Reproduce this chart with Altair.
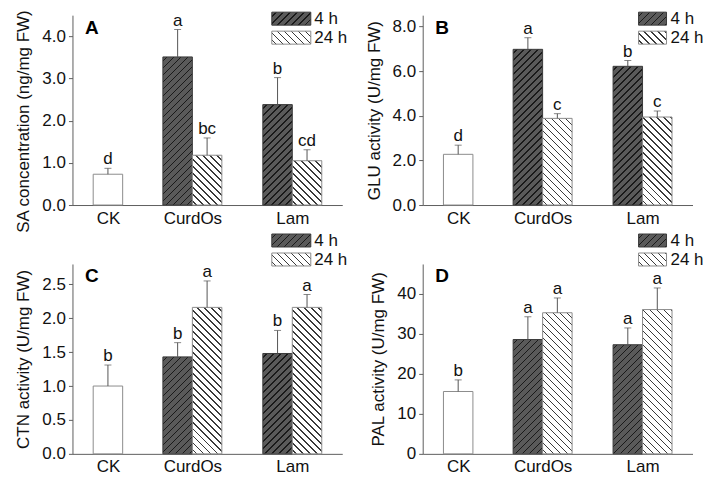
import altair as alt
import pandas as pd

# ---------------- data ----------------
bar_group = ["CK", "CurdOs", "CurdOs", "Lam", "Lam"]
bar_time = ["CK", "4 h", "24 h", "4 h", "24 h"]

sa_mean = [0.73, 3.51, 1.18, 2.38, 1.05]
sa_err = [0.14, 0.65, 0.41, 0.64, 0.26]
sa_letters = ["d", "a", "bc", "b", "cd"]

glu_mean = [2.27, 6.97, 3.88, 6.21, 3.94]
glu_err = [0.41, 0.52, 0.21, 0.26, 0.27]
glu_letters = ["d", "a", "c", "b", "c"]

ctn_mean = [1.00, 1.43, 2.16, 1.48, 2.16]
ctn_err = [0.31, 0.21, 0.39, 0.34, 0.19]
ctn_letters = ["b", "b", "a", "b", "a"]

pal_mean = [15.6, 28.6, 35.3, 27.3, 36.1]
pal_err = [2.9, 5.7, 3.7, 4.2, 5.4]
pal_letters = ["b", "a", "a", "a", "a"]

# ---------------- layout / style ----------------
W, H = 270, 190
XMAX = 2.7
group_pos = {"CK": 0.355, "CurdOs": 1.2, "Lam": 2.2}
BW = 0.295
PX = W / XMAX
FONT = "Liberation Sans"
DARK_BG, DARK_FG = "#5a5a5a", "#1a1a1a"
LIGHT_BG, LIGHT_FG = "#ffffff", "#3a3a3a"
AXIS_COLOR = "#5e5e5e"


def hatch(w, h, direction, bg, fg, spacing=7.0, lw=1.1):
    c = (w + h) / (w * w + h * h)
    if direction == "/":
        x1, y1, x2, y2 = 0, 0, c * w, c * h
    else:
        x1, y1, x2, y2 = 0, 1, c * w, 1 - c * h
    p = spacing / (w + h)
    f = min(0.5, lw * 1.414 / spacing) * p
    stops = []
    t = p * 0.5
    stops.append({"offset": 0, "color": bg})
    while t < 1:
        a = min(1, t)
        b = min(1, t + f)
        stops += [
            {"offset": round(a, 5), "color": bg},
            {"offset": round(a, 5), "color": fg},
            {"offset": round(b, 5), "color": fg},
            {"offset": round(b, 5), "color": bg},
        ]
        t += p
    stops.append({"offset": 1, "color": bg})
    return {"gradient": "linear", "x1": round(x1, 5), "y1": round(y1, 5),
            "x2": round(x2, 5), "y2": round(y2, 5), "stops": stops}


def panel(letter, ytitle, ymax, ticks, fmt, means, errs, letters, legend_top, right, title_shift=0):
    rows = []
    for i, (g, t, m, e, l) in enumerate(zip(bar_group, bar_time, means, errs, letters)):
        pos = group_pos[g]
        if t == "CK":
            x0, x1 = pos - BW / 2, pos + BW / 2
        elif t == "4 h":
            x0, x1 = pos - BW, pos
        else:
            x0, x1 = pos, pos + BW
        rows.append({"idx": i, "group": g, "time": t, "mean": m, "err": e,
                     "top": m + e, "letter": l, "x0": x0, "x1": x1,
                     "xc": (x0 + x1) / 2, "zero": 0})
    df = pd.DataFrame(rows)
    base = alt.Chart(df)

    xscale = alt.Scale(domain=[0, XMAX], nice=False, zero=False)
    yscale = alt.Scale(domain=[0, ymax], nice=False)
    xaxis = alt.Axis(values=list(group_pos.values()), ticks=False, grid=False,
                     labelExpr="datum.value < 0.8 ? 'CK' : datum.value < 1.7 ? 'CurdOs' : 'Lam'",
                     labelPadding=5, title=None)
    yaxis = alt.Axis(values=ticks, format=fmt, grid=False, tickSize=4,
                     labelPadding=3, title=ytitle, titlePadding=9,
                     titleY=H / 2 + title_shift)

    def enc_rect():
        return dict(x=alt.X("x0:Q", scale=xscale, axis=xaxis),
                    x2="x1:Q",
                    y=alt.Y("mean:Q", scale=yscale, axis=yaxis),
                    y2="zero:Q")

    layers = []
    layers.append(base.transform_filter("datum.time == 'CK'")
                  .mark_rect(fill="white", stroke="#8c8c8c", strokeWidth=1)
                  .encode(**enc_rect()))
    for i, (t, m) in enumerate(zip(bar_time, means)):
        if t == "CK":
            continue
        wpx = BW * PX
        hpx = m / ymax * H
        if t == "4 h":
            fill = hatch(wpx, hpx, "/", DARK_BG, DARK_FG)
            stroke = "#3a3a3a"
        else:
            fill = hatch(wpx, hpx, "\\", LIGHT_BG, LIGHT_FG)
            stroke = "#8c8c8c"
        layers.append(base.transform_filter(f"datum.idx == {i}")
                      .mark_rect(fill=fill, stroke=stroke, strokeWidth=1)
                      .encode(**enc_rect()))

    layers.append(base.mark_rule(color="#555555", strokeWidth=1).encode(
        x=alt.X("xc:Q", scale=xscale, axis=xaxis),
        y=alt.Y("mean:Q", scale=yscale, axis=yaxis),
        y2="top:Q"))
    layers.append(base.mark_tick(orient="horizontal", size=7, thickness=1, color="#555555").encode(
        x=alt.X("xc:Q", scale=xscale, axis=xaxis),
        y=alt.Y("top:Q", scale=yscale, axis=yaxis)))
    layers.append(base.mark_text(baseline="alphabetic", dy=-4, fontSize=17, font=FONT, color="#111111").encode(
        x=alt.X("xc:Q", scale=xscale, axis=xaxis),
        y=alt.Y("top:Q", scale=yscale, axis=yaxis),
        text="letter:N"))

    one = alt.Chart(pd.DataFrame({"k": [0]}))
    layers.append(one.mark_text(text=letter, fontWeight="bold", fontSize=19, font=FONT,
                                align="left", baseline="alphabetic", color="#000000")
                  .encode(x=alt.value(12.5), y=alt.value(18.5)))
    if right:
        sx0, sx1, tx = 216, 244, 248
    else:
        sx0, sx1, tx = 199.5, 238.5, 242
    sw, sh = sx1 - sx0, 13
    items = [("4 h", hatch(sw, sh, "/", DARK_BG, DARK_FG), "#3a3a3a", legend_top),
             ("24 h", hatch(sw, sh, "\\", LIGHT_BG, LIGHT_FG), "#8c8c8c", legend_top + 19)]
    for label, fill, stroke, ly in items:
        layers.append(one.mark_rect(fill=fill, stroke=stroke, strokeWidth=1).encode(
            x=alt.value(sx0), x2=alt.value(sx1), y=alt.value(ly), y2=alt.value(ly + sh)))
        layers.append(one.mark_text(text=label, fontSize=17, font=FONT, align="left",
                                    baseline="middle", color="#111111").encode(
            x=alt.value(tx), y=alt.value(ly + sh / 2 + 0.5)))

    return alt.layer(*layers).properties(width=W, height=H)


pA = panel("A", "SA concentration (ng/mg FW)", 4.5, [0, 1, 2, 3, 4], ".1f",
           sa_mean, sa_err, sa_letters, -3, False, title_shift=11)
pB = panel("B", "GLU activity (U/mg FW)", 8.5, [0, 2, 4, 6, 8], ".1f",
           glu_mean, glu_err, glu_letters, -3, True)
pC = panel("C", "CTN activity (U/mg FW)", 2.8, [0, 0.5, 1, 1.5, 2, 2.5], ".1f",
           ctn_mean, ctn_err, ctn_letters, -30, False)
pD = panel("D", "PAL activity (U/mg FW)", 47.5, [0, 10, 20, 30, 40], "d",
           pal_mean, pal_err, pal_letters, -30, True)

chart = alt.concat(pA, pB, pC, pD, columns=2, bounds="flush",
                   spacing={"row": 59, "column": 80.5}).properties(
    padding={"left": 6.5, "top": 1, "right": 2, "bottom": 2}
).configure_view(strokeWidth=0).configure_axis(
    labelFont=FONT, titleFont=FONT, labelFontSize=17, titleFontSize=17,
    labelColor="#111111", titleColor="#111111", titleFontWeight="normal",
    domainColor=AXIS_COLOR, tickColor=AXIS_COLOR, domainWidth=1, tickWidth=1
)

chart.save("out.html", embed_options={"renderer": "svg", "actions": False})
